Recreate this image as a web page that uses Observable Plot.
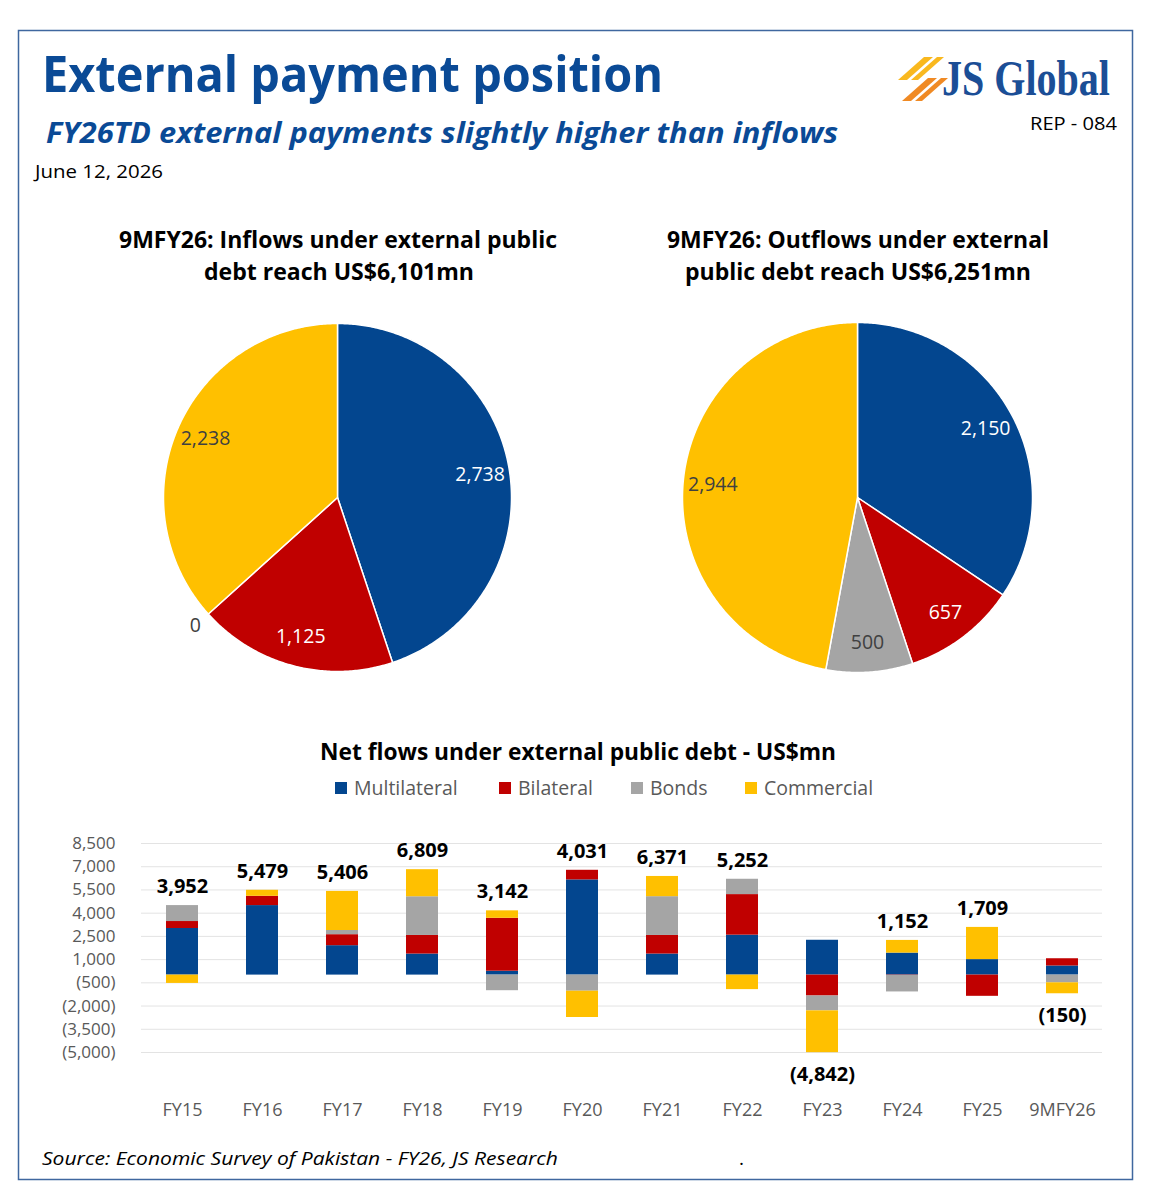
<!DOCTYPE html>
<html><head><meta charset="utf-8">
<script src="https://cdn.jsdelivr.net/npm/d3@7"></script>
<script src="https://cdn.jsdelivr.net/npm/@observablehq/plot@0.6"></script>
<style>
body{margin:0;background:#fff;}
#page{position:relative;width:1153px;height:1200px;overflow:hidden;font-family:"Open Sans",sans-serif;}
#page svg.plot, #page > svg{position:absolute;}
</style></head><body><div id="page"></div>
<script>
// ---------- data ----------
const series = ["Multilateral", "Bilateral", "Bonds", "Commercial"];
const seriesColors = ["#03468F", "#C00000", "#A5A5A5", "#FFC000"];

const inflows9M = [2738, 1125, 0, 2238];
const outflows9M = [2150, 657, 500, 2944];

const years = ["FY15","FY16","FY17","FY18","FY19","FY20","FY21","FY22","FY23","FY24","FY25","9MFY26"];
const multilateral = [3010, 4490, 1900, 1360, 250, 6150, 1360, 2580, 2250, 1420, 1000, 588];
const bilateral    = [450, 600, 710, 1200, 3420, 620, 1200, 2620, -1350, -20, -1371, 468];
const bonds        = [1030, 0, 270, 2500, -1008, -1040, 2505, 990, -960, -1068, 0, -500];
const commercial   = [-538, 389, 2526, 1749, 480, -1699, 1306, -938, -2700, 820, 2080, -706];
const totals       = [3952, 5479, 5406, 6809, 3142, 4031, 6371, 5252, -4842, 1152, 1709, -150];
const yTicks = [8500, 7000, 5500, 4000, 2500, 1000, -500, -2000, -3500, -5000];

// ---------- helpers ----------
const page = document.getElementById("page");
const fmtN = d3.format(",");
const fmtP = d => d < 0 ? `(${fmtN(-d)})` : fmtN(d);
const FONT = "Open Sans";

const ov = d3.select(page).append("svg").attr("width", 1153).attr("height", 1200).style("left", 0).style("top", 0);
function T(x, y, s, o = {}) {
  const t = ov.append("text").attr("x", x).attr("y", y).text(s)
    .attr("font-family", o.family || FONT).attr("font-size", o.size || 19)
    .attr("font-weight", o.weight || 400).attr("font-style", o.style || "normal")
    .attr("fill", o.fill || "#000").attr("text-anchor", o.anchor || "start");
  if (o.len) t.attr("textLength", o.len).attr("lengthAdjust", "spacingAndGlyphs");
  return t;
}

// border
ov.append("rect").attr("x", 18.5).attr("y", 30.5).attr("width", 1114).attr("height", 1149)
  .attr("fill", "none").attr("stroke", "#3F679F").attr("stroke-width", 1.5);

// header
T(42, 92, "External payment position", {size: 50, weight: 700, fill: "#0A4A96", len: 621});
T(46, 143, "FY26TD external payments slightly higher than inflows", {size: 29, weight: 700, style: "italic", fill: "#0A4A96", len: 792});
T(35, 178, "June 12, 2026", {size: 19, len: 128});
T(1030, 130, "REP - 084", {size: 19, len: 87});

// logo
const stripes = [
  {p: [[898,80],[924,57],[933,57],[907,80]], c: "#F9B81E"},
  {p: [[911,80],[937,57],[944,57],[918,80]], c: "#F9B81E"},
  {p: [[902,101],[928,78],[937,78],[911,101]], c: "#F08A24"},
  {p: [[915,101],[941,78],[948,78],[922,101]], c: "#F08A24"}
];
stripes.forEach(s => ov.append("polygon").attr("points", s.p.map(q => q.join(",")).join(" ")).attr("fill", s.c));
T(942, 95, "JS Global", {family: "Liberation Serif", size: 50, weight: 700, fill: "#1B4E96", len: 168});

// pie titles
T(338, 248, "9MFY26: Inflows under external public", {size: 23, weight: 700, anchor: "middle", len: 438});
T(339, 280, "debt reach US$6,101mn", {size: 23, weight: 700, anchor: "middle", len: 270});
T(858, 248, "9MFY26: Outflows under external", {size: 23, weight: 700, anchor: "middle", len: 382});
T(858, 280, "public debt reach US$6,251mn", {size: 23, weight: 700, anchor: "middle", len: 346});

// bar chart title and legend
T(578, 760, "Net flows under external public debt - US$mn", {size: 23, weight: 700, anchor: "middle", len: 516});
const legendX = [335, 499, 631, 745];
series.forEach((s, i) => {
  ov.append("rect").attr("x", legendX[i]).attr("y", 782).attr("width", 12).attr("height", 12).attr("fill", seriesColors[i]);
  T(legendX[i] + 19, 795, s, {size: 19.5, fill: "#595959"});
});

// source
T(42, 1165, "Source: Economic Survey of Pakistan - FY26, JS Research", {size: 19, style: "italic", len: 516});
T(739, 1165, ".", {size: 19});

// ---------- pies ----------
function pieChart(values, cx, cy, R) {
  const arcs = d3.pie().sort(null).value(d => d)(values);
  const pts = [];
  const labels = [];
  arcs.forEach((a, i) => {
    const span = a.endAngle - a.startAngle;
    if (span > 0) {
      const n = Math.max(2, Math.ceil(span / 0.01));
      pts.push({s: series[i], x: 0, y: 0});
      for (let k = 0; k <= n; k++) {
        const t = a.startAngle + span * k / n;
        pts.push({s: series[i], x: Math.sin(t), y: Math.cos(t)});
      }
      pts.push({s: series[i], x: 0, y: 0});
    }
    const mid = (a.startAngle + a.endAngle) / 2;
    const r = values[i] > 0 ? 0.83 : 1.1;
    labels.push({s: series[i], v: values[i], x: r * Math.sin(mid), y: r * Math.cos(mid),
      light: values[i] > 0 && (i === 0 || i === 1)});
  });
  const size = 440;
  const half = size / 2 / R;
  const p = Plot.plot({
    width: size, height: size, margin: 0,
    style: {background: "transparent", fontFamily: FONT},
    x: {domain: [-half, half], axis: null},
    y: {domain: [-half, half], axis: null},
    color: {domain: series, range: seriesColors},
    marks: [
      Plot.line(pts, {x: "x", y: "y", z: "s", fill: "s", stroke: "white", strokeWidth: 1.5, strokeLinejoin: "round"}),
      Plot.text(labels.filter(d => d.light), {x: "x", y: "y", text: d => fmtN(d.v), fill: "white", fontSize: 19.5}),
      Plot.text(labels.filter(d => !d.light), {x: "x", y: "y", text: d => fmtN(d.v), fill: "#404040", fontSize: 19.5})
    ]
  });
  p.style.left = (cx - size / 2) + "px";
  p.style.top = (cy - size / 2) + "px";
  page.appendChild(p);
}
pieChart(inflows9M, 337, 497, 174);
pieChart(outflows9M, 857, 497, 175);

// ---------- stacked bars ----------
const seriesArrays = [multilateral, bilateral, bonds, commercial];
const rows = [];
years.forEach((y, i) => seriesArrays.forEach((arr, j) => rows.push({year: y, series: series[j], value: arr[i]})));
const labelRows = years.map((y, i) => {
  const top = d3.sum(seriesArrays, a => Math.max(0, a[i]));
  const bot = d3.sum(seriesArrays, a => Math.min(0, a[i]));
  return {year: y, total: totals[i], anchor: totals[i] >= 0 ? top : bot};
});

const bars = Plot.plot({
  width: 1153, height: 330,
  marginLeft: 141, marginRight: 51, marginTop: 43, marginBottom: 78,
  style: {background: "transparent", fontFamily: FONT},
  x: {domain: years, paddingInner: 0.6, paddingOuter: 0.3, axis: null, label: null},
  y: {domain: [-5000, 8500], axis: null, label: null},
  color: {domain: series, range: seriesColors},
  marks: [
    Plot.gridY(yTicks, {stroke: "#E3E3E3", strokeOpacity: 1, strokeWidth: 1}),
    Plot.barY(rows, {x: "year", y: "value", fill: "series"}),
    Plot.axisY(yTicks, {tickSize: 0, tickPadding: 26, tickFormat: fmtP, fontSize: 17, color: "#595959", label: null}),
    Plot.axisX({tickSize: 0, tickPadding: 51, fontSize: 18, color: "#595959", label: null}),
    Plot.text(labelRows.filter(d => d.total >= 0), {x: "year", y: "anchor", text: d => fmtP(d.total), dy: -19, fontSize: 20, fontWeight: 700, fill: "#000"}),
    Plot.text(labelRows.filter(d => d.total < 0), {x: "year", y: "anchor", text: d => fmtP(d.total), dy: 22, fontSize: 20, fontWeight: 700, fill: "#000"})
  ]
});
bars.style.left = "0px";
bars.style.top = "800px";
page.appendChild(bars);
</script>
</body></html>
